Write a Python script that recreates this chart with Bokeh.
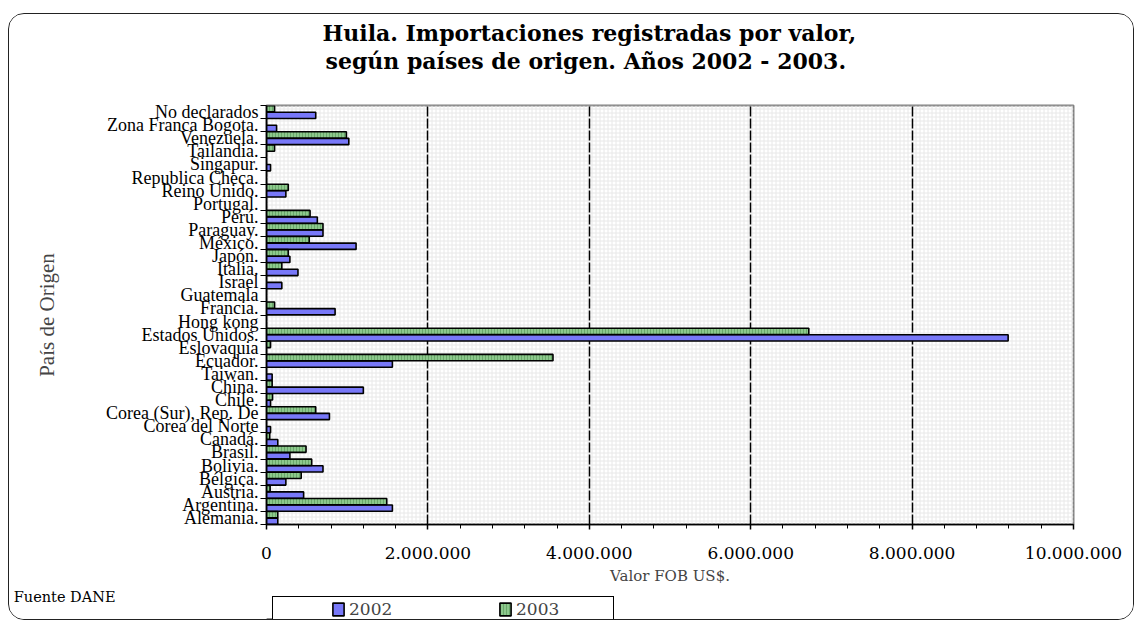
import numpy as np
from bokeh.plotting import figure
from bokeh.layouts import column
from bokeh.models import (Range1d, FixedTicker, Legend, LegendItem, Title, BoxAnnotation)
from bokeh.embed import file_html
from bokeh.resources import INLINE

# ---------------- data ----------------
countries = ["Alemania.", "Argentina.", "Austria.", "Bélgica.", "Bolivia.", "Brasil.",
             "Canadá.", "Corea del Norte", "Corea (Sur), Rep. De", "Chile.", "China.",
             "Taiwan.", "Ecuador.", "Eslovaquia", "Estados Unidos.", "Hong kong",
             "Francia.", "Guatemala", "Israel", "Italia.", "Japón.", "México.",
             "Paraguay.", "Perú.", "Portugal.", "Reino Unido.", "Republica Checa.",
             "Singapur.", "Tailandia.", "Venezuela.", "Zona Franca Bogota.", "No declarados"]

val_2002 = [140000, 1560000, 460000, 240000, 700000, 290000,
            140000, 50000, 780000, 50000, 1200000,
            70000, 1560000, 0, 9190000, 0,
            850000, 0, 190000, 390000, 290000, 1110000,
            700000, 630000, 0, 240000, 0,
            50000, 0, 1020000, 125000, 610000]

val_2003 = [140000, 1490000, 45000, 430000, 560000, 490000,
            40000, 0, 610000, 75000, 70000,
            0, 3550000, 50000, 6720000, 0,
            100000, 0, 0, 190000, 270000, 530000,
            700000, 540000, 0, 270000, 0,
            0, 100000, 990000, 0, 100000]

series_names = ["2002", "2003"]
x_ticks = [0, 2000000, 4000000, 6000000, 8000000, 10000000]
x_tick_labels = ["0", "2.000.000", "4.000.000", "6.000.000", "8.000.000", "10.000.000"]

title_lines = ["Huila. Importaciones registradas por valor,",
               "según países de origen. Años 2002 - 2003."]
x_title = "Valor FOB US$."
y_title = "País de Origen"
source_note = "Fuente DANE"

# ---------------- styles ----------------
blue = "#7878f8"
green = "#8cc88c"
bar_style_2002 = dict(fill_color=blue, line_color="black", line_width=1.6)
bar_style_2003 = dict(fill_color=green, line_color="black", line_width=1.6,
                      hatch_pattern="|", hatch_color="#6aa86a", hatch_scale=3, hatch_weight=1)

# ---------------- main figure ----------------
n = len(countries)
ypos = np.arange(n)

p = figure(width=1124, height=573,
           x_range=Range1d(0, 10000000), y_range=Range1d(-0.5, n - 0.5),
           output_backend="svg", toolbar_location=None,
           min_border_left=257, min_border_right=60,
           min_border_top=91, min_border_bottom=62)
p.background_fill_color = "white"
p.border_fill_color = "white"
p.outline_line_color = "#808080"
p.outline_line_width = 2

# fine background grid pattern
bg = BoxAnnotation(level="image", fill_alpha=0, line_alpha=0,
                   hatch_pattern="+", hatch_color="#e8e8e8", hatch_scale=4, hatch_weight=1)
p.add_layout(bg)

# bars
r1 = p.hbar(y=ypos - 0.25, right=val_2002, left=0, height=0.48, **bar_style_2002)
r2 = p.hbar(y=ypos + 0.25, right=val_2003, left=0, height=0.48, **bar_style_2003)

# x axis
p.xaxis.ticker = FixedTicker(ticks=x_ticks, minor_ticks=list(range(0, 10000001, 400000)))
p.xaxis.major_label_overrides = {t: s for t, s in zip(x_ticks, x_tick_labels)}
p.xaxis.major_label_text_font = "DejaVu Serif"
p.xaxis.major_label_text_font_size = "17px"
p.xaxis.major_label_text_color = "black"
p.xaxis.major_label_standoff = 17
p.xaxis.major_tick_out = 5
p.xaxis.major_tick_in = 0
p.xaxis.minor_tick_out = 4
p.xaxis.minor_tick_in = 0
p.xaxis.axis_line_width = 1.5
p.xaxis.major_tick_line_width = 1.5
p.xaxis.minor_tick_line_color = "black"
p.xaxis.axis_label = x_title
p.xaxis.axis_label_text_font = "DejaVu Serif"
p.xaxis.axis_label_text_font_size = "15px"
p.xaxis.axis_label_text_font_style = "normal"
p.xaxis.axis_label_standoff = 5

# y axis
p.yaxis.ticker = FixedTicker(ticks=list(ypos), minor_ticks=list(np.arange(n + 1) - 0.5))
p.yaxis.major_label_overrides = {int(i): c for i, c in zip(ypos, countries)}
p.yaxis.major_label_text_font = "Liberation Serif"
p.yaxis.major_label_text_font_size = "18px"
p.yaxis.major_label_text_color = "black"
p.yaxis.major_label_standoff = 2
p.yaxis.major_tick_out = 0
p.yaxis.major_tick_in = 0
p.yaxis.minor_tick_out = 6
p.yaxis.minor_tick_in = 0
p.yaxis.minor_tick_line_color = "black"
p.yaxis.minor_tick_line_width = 1.2
p.yaxis.axis_line_width = 1.5
p.yaxis.axis_label = y_title
p.yaxis.axis_label_text_font = "Liberation Serif"
p.yaxis.axis_label_text_font_size = "21px"
p.yaxis.axis_label_text_font_style = "normal"
p.yaxis.axis_label_standoff = 44

# grid
p.ygrid.visible = False
p.xgrid.ticker = FixedTicker(ticks=x_ticks[1:-1])
p.xgrid.grid_line_color = "black"
p.xgrid.grid_line_width = 1.5
p.xgrid.grid_line_dash = "10 2"

# titles (added from the frame outward)
p.add_layout(Title(text="\u00a0", text_font_size="10px", standoff=19), "above")
p.add_layout(Title(text=title_lines[1], align="left", offset=59, standoff=0,
                   text_font="DejaVu Serif", text_font_style="bold",
                   text_font_size="22px", text_color="black"), "above")
p.add_layout(Title(text=title_lines[0], align="left", offset=56, standoff=0,
                   text_font="DejaVu Serif", text_font_style="bold",
                   text_font_size="22px", text_color="black"), "above")

# ---------------- bottom strip: source note + legend ----------------
note_pos = 0.7
p2 = figure(width=1124, height=32, x_range=Range1d(0, 1), y_range=Range1d(0, 1),
            x_axis_type=None, output_backend="svg", toolbar_location=None,
            min_border=0)
p2.outline_line_color = None
p2.grid.visible = False
p2.background_fill_color = "white"
p2.border_fill_color = "white"
# source note rendered as the single label of the strip's left axis
p2.yaxis.ticker = FixedTicker(ticks=[note_pos], minor_ticks=[])
p2.yaxis.major_label_overrides = {note_pos: source_note}
p2.yaxis.axis_line_color = None
p2.yaxis.major_tick_line_color = None
p2.yaxis.minor_tick_line_color = None
p2.yaxis.major_tick_out = 0
p2.yaxis.major_label_standoff = 151
p2.yaxis.major_label_text_font = "DejaVu Serif"
p2.yaxis.major_label_text_font_size = "14.5px"
p2.yaxis.major_label_text_color = "black"

# legend proxies (same styles as the bars, drawn outside the strip's range)
k1 = p2.hbar(y=[-5], right=[0.1], left=0, height=0.5, **bar_style_2002)
k2 = p2.hbar(y=[-5], right=[0.1], left=0, height=0.5, **bar_style_2003)

legend = Legend(items=[LegendItem(label=series_names[0], renderers=[k1], index=0),
                       LegendItem(label=series_names[1], renderers=[k2], index=0)],
                orientation="horizontal", location=(6, -3),
                title="\u00a0", title_location="left", title_standoff=36,
                title_text_font_size="17px",
                padding=2, spacing=54, glyph_width=14, glyph_height=16,
                label_standoff=4, label_width=95,
                label_text_font="DejaVu Serif", label_text_font_size="17px",
                background_fill_color="white", background_fill_alpha=1,
                border_line_color="black", border_line_width=1, border_line_alpha=1)
p2.add_layout(legend)

layout = column(p, p2, spacing=0)
layout.margin = (13, 0, 0, 8)
layout.styles = {"border": "1px solid #222", "border-radius": "16px", "overflow": "hidden",
                 "background-color": "white"}

open("out.html", "w").write(file_html(layout, INLINE))
